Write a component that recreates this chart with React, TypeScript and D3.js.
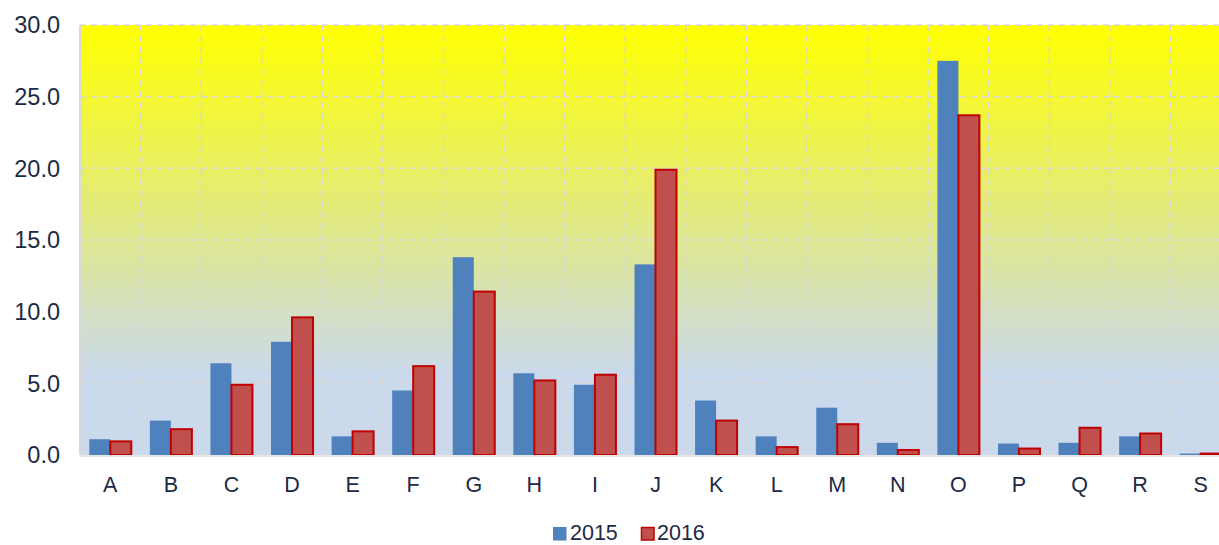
import React from "react";
import * as d3 from "d3";

const categories = ["A","B","C","D","E","F","G","H","I","J","K","L","M","N","O","P","Q","R","S"];
const values2015 = [1.1,2.4,6.4,7.9,1.3,4.5,13.8,5.7,4.9,13.3,3.8,1.3,3.3,0.85,27.5,0.8,0.85,1.3,0.1];
const values2016 = [0.95,1.8,4.9,9.6,1.65,6.2,11.4,5.2,5.6,19.9,2.4,0.55,2.15,0.35,23.7,0.45,1.9,1.5,0.1];
const yTicks = [0,5,10,15,20,25,30];
const seriesNames = ["2015","2016"];

const W = 1219, H = 545;
const left = 80, right = 1231, top = 25, bottom = 455;
const textColor = "#1c2a45";
const font = "'Liberation Sans', Arial, sans-serif";

export default function App() {
  const x = d3.scaleBand<string>().domain(categories).range([left, right]);
  const y = d3.scaleLinear().domain([0, 30]).range([bottom, top]);
  const bw = 21;
  const gap = (x.bandwidth() - 2 * bw) / 2;
  return (
    <svg width={W} height={H} style={{ position: "absolute", left: 0, top: 0 }}>
      <defs>
        <linearGradient id="bg" gradientUnits="userSpaceOnUse" x1="0" y1={top} x2="0" y2={375}>
          <stop offset="0" stopColor="#ffff00" />
          <stop offset="1" stopColor="#cad9ec" />
        </linearGradient>
      </defs>
      <rect x={left} y={top} width={right - left} height={bottom - top} fill="url(#bg)" />
      {yTicks.map((t) => (
        <line key={"gy" + t} x1={left} x2={right} y1={y(t)} y2={y(t)} stroke="#d9d9d9" strokeWidth={1.5} strokeDasharray="6,5" />
      ))}
      {categories.slice(1).map((c) => (
        <line key={"gx" + c} x1={x(c)!} x2={x(c)!} y1={top} y2={bottom} stroke="#d9d9d9" strokeWidth={1.5} strokeDasharray="6,5" />
      ))}
      <line x1={left} x2={left} y1={top} y2={bottom} stroke="#d9d9d9" strokeWidth={2} />
      {categories.map((c, i) => {
        const x0 = x(c)! + gap;
        return (
          <g key={c}>
            <rect x={x0} y={y(values2015[i])} width={bw} height={bottom - y(values2015[i])} fill="#4f81bd" />
            <rect x={x0 + bw} y={y(values2016[i])} width={bw} height={bottom - y(values2016[i])} fill="#c0504d" stroke="#c00000" strokeWidth={2} />
          </g>
        );
      })}
      <line x1={left} x2={right} y1={bottom + 1} y2={bottom + 1} stroke="#e6e6e6" strokeWidth={2} />
      {yTicks.map((t) => (
        <text key={"yl" + t} x={60} y={y(t)} dy="0.35em" textAnchor="end" fontFamily={font} fontSize={23.5} fill={textColor}>
          {t.toFixed(1)}
        </text>
      ))}
      {categories.map((c) => (
        <text key={"xl" + c} x={x(c)! + x.bandwidth() / 2} y={491.5} textAnchor="middle" fontFamily={font} fontSize={21.5} fill={textColor}>
          {c}
        </text>
      ))}
      <g>
        <rect x={553} y={527} width={13.5} height={13.5} fill="#4f81bd" />
        <text x={570} y={540} fontFamily={font} fontSize={21.5} fill={textColor}>{seriesNames[0]}</text>
        <rect x={641.5} y={527.5} width={12.5} height={12.5} fill="#c0504d" stroke="#c00000" strokeWidth={1.5} />
        <text x={657} y={540} fontFamily={font} fontSize={21.5} fill={textColor}>{seriesNames[1]}</text>
      </g>
    </svg>
  );
}
